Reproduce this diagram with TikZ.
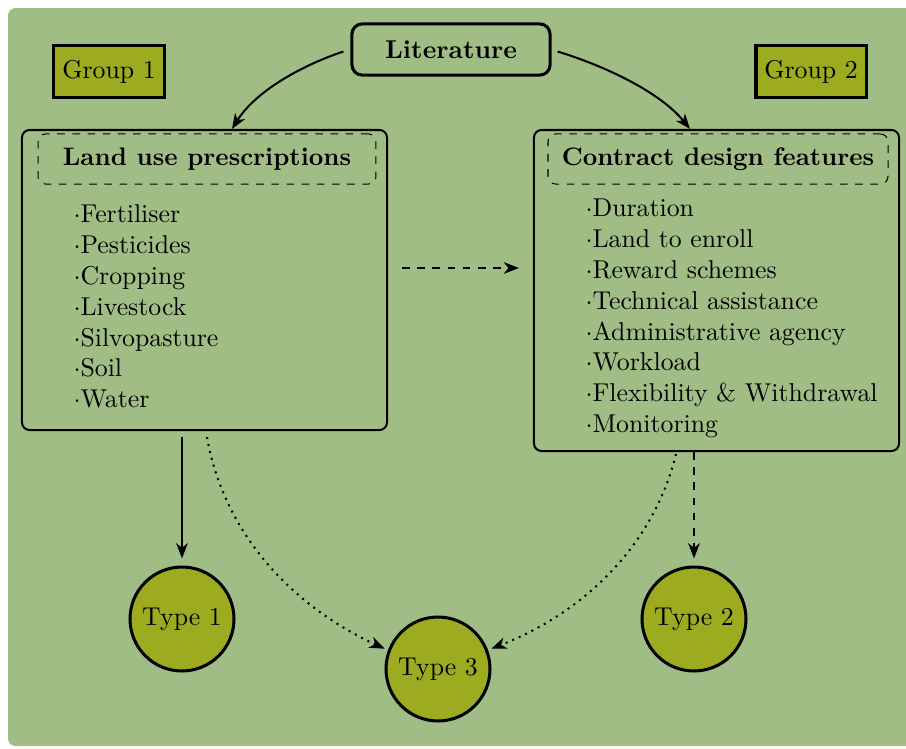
\documentclass[tikz,border=0pt]{standalone}
\usetikzlibrary{arrows.meta}
\definecolor{bgc}{RGB}{160,189,133}
\definecolor{myolive}{RGB}{157,171,32}
\tikzset{
  arr/.style={-{Stealth[length=6pt,width=4.6pt,inset=1.8pt]}, thick},
  bigbox/.style={draw, thick, rounded corners=3pt, minimum width=144.3pt, inner sep=0pt},
  titlebox/.style={draw, dashed, thin, rounded corners=3pt, minimum width=134pt, minimum height=19.8pt, inner sep=0pt, font=\bfseries},
  groupbox/.style={draw, line width=1.2pt, fill=myolive, minimum width=43.5pt, minimum height=20.2pt, inner sep=0pt},
  typecirc/.style={draw, circle, line width=1.2pt, fill=myolive, minimum size=41.1pt, inner sep=0pt},
  listnode/.style={anchor=west, align=left, inner sep=0pt},
}
\begin{document}
\begin{tikzpicture}[x=0.3953pt,y=-0.3953pt, font=\fontsize{10.2pt}{12.2pt}\selectfont]
\useasboundingbox (0,0) rectangle (906,749);
\fill[bgc, rounded corners=3pt] (8,8) rectangle (916,746);

\node[draw, line width=1.2pt, rounded corners=4pt, minimum width=78.3pt, minimum height=20.2pt, inner sep=0pt, font=\fontsize{10.2pt}{12.2pt}\selectfont\bfseries] (lit) at (451,49.5) {Literature};
\node[groupbox] (g1) at (109,71.5) {Group 1};
\node[groupbox] (g2) at (811,71.5) {Group 2};

\node[bigbox, minimum height=118.6pt] (L) at (204.5,280) {};
\node[bigbox, minimum height=126.9pt] (R) at (716.5,290.5) {};
\node[titlebox, minimum width=133.6pt] (Lt) at (207,159) {Land use prescriptions};
\node[titlebox, minimum width=134.4pt] (Rt) at (718,159) {Contract design features};

\node[listnode] (Ll) at (73,306.5) {$\cdot$Fertiliser\\$\cdot$Pesticides\\$\cdot$Cropping\\$\cdot$Livestock\\$\cdot$Silvopasture\\$\cdot$Soil\\$\cdot$Water};
\node[listnode] (Rl) at (585,318.5) {$\cdot$Duration\\$\cdot$Land to enroll\\$\cdot$Reward schemes\\$\cdot$Technical assistance\\$\cdot$Administrative agency\\$\cdot$Workload\\$\cdot$Flexibility \& Withdrawal\\$\cdot$Monitoring};

\node[typecirc] (t1) at (182,619) {Type 1};
\node[typecirc] (t2) at (694,619) {Type 2};
\node[typecirc] (t3) at (438,669) {Type 3};

\draw[arr] ([shift={(-7,2)}]lit.west) .. controls (300,66) and (255,92) .. ([shift={(27.5,0)}]L.north);
\draw[arr] ([shift={(6,2)}]lit.east) .. controls (605,66) and (660,92) .. ([shift={(-26.5,0)}]R.north);
\draw[arr, dashed] ([shift={(14,-12)}]L.east) -- ([shift={(-14,-22.5)}]R.west);
\draw[arr, shorten <=2.4pt, shorten >=2.8pt] (L.south -| t1) -- (t1.north);
\draw[arr, dashed, shorten >=2.8pt] (R.south -| t2) -- (t2.north);
\draw[arr, dotted] ([shift={(2.5,6)}]L.south) .. controls (225,540) and (300,610) .. ([shift={(-3,-2)}]t3.160);
\draw[arr, dotted] ([shift={(-40.5,2)}]R.south) .. controls (655,540) and (590,610) .. ([shift={(3,-2)}]t3.20);
\end{tikzpicture}
\end{document}
